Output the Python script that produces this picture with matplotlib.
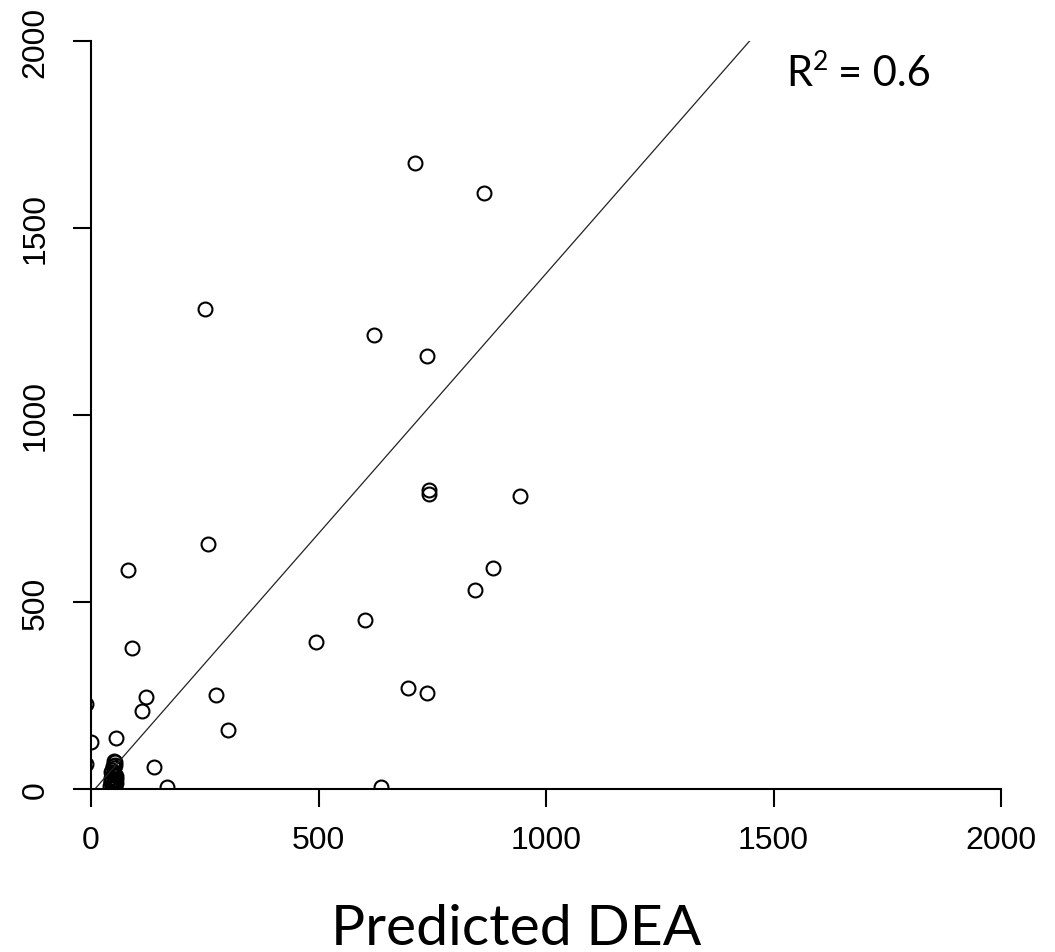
import matplotlib
matplotlib.use("Agg")
import matplotlib.pyplot as plt

predicted = [713, 863, 250, 623, 738, 742, 742, 942, 257, 81, 884, 845, 602,
             495, 90, 696, 738, 274, 121, 112, 301, 55, 139, 167, 638, 0,
             -10, -10,
             50, 52, 48, 47, 50, 45, 52, 44, 49, 53, 46, 55, 42, 56,
             47, 51, 54, 43, 48, 51, 45, 53]
observed = [1674, 1594, 1283, 1214, 1158, 799, 789, 783, 655, 586, 591, 532, 452,
            393, 377, 270, 257, 251, 246, 208, 159, 137, 59, 6, 6, 125,
            226, 67,
            75, 72, 62, 50, 42, 30, 25, 18, 10, 5, 2, 35, 8, 15,
            12, 20, 28, 22, 38, 55, 45, 65]

fit_slope = 1.39
fit_intercept = -12
ticks = [0, 500, 1000, 1500, 2000]

W, H = 1055, 953
fig = plt.figure(figsize=(W / 100, H / 100), dpi=100)
ax = fig.add_axes([91 / W, 1 - 790 / H, 910 / W, 748 / H])

ax.plot(predicted, observed, linestyle="none", marker="o", markersize=10,
        markerfacecolor="none", markeredgecolor="black", markeredgewidth=1.5)
ax.axline((0, fit_intercept), slope=fit_slope, color="#222222", linewidth=0.9)

ax.set_xlim(0, 2000)
ax.set_ylim(0, 2000)
ax.set_xticks(ticks)
ax.set_yticks(ticks)
for side in ("top", "right"):
    ax.spines[side].set_visible(False)
for side in ("left", "bottom"):
    ax.spines[side].set_linewidth(1.5)

ax.tick_params(length=13, width=1.5, direction="out", labelsize=23, color="black")
ax.tick_params(axis="x", pad=13)
ax.tick_params(axis="y", pad=16)
for lab in ax.get_xticklabels() + ax.get_yticklabels():
    lab.set_family("Liberation Sans")
for lab in ax.get_yticklabels():
    lab.set_rotation(90)
    lab.set_va("center")

fig.text(516 / W, 1 - 945 / H, "Predicted DEA", family="Lato", fontsize=41,
         ha="center", va="baseline")

# R² label pieced together so the superscript sits like the original
fig.text(786 / W, 1 - 86 / H, "R", family="Lato", fontsize=30, va="baseline")
fig.text(813 / W, 1 - 70 / H, "2", family="Lato", fontsize=19, va="baseline")
fig.text(838 / W, 1 - 86 / H, "= 0.6", family="Lato", fontsize=30, va="baseline")

fig.savefig("out.png", dpi=100)
